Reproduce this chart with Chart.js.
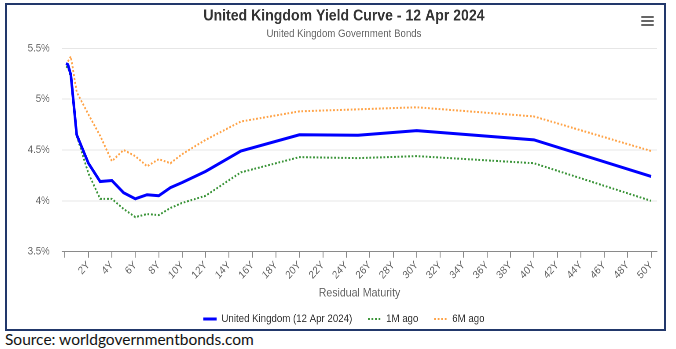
<!DOCTYPE html>
<html>
<head>
<meta charset="utf-8">
<script src="https://cdn.jsdelivr.net/npm/chart.js@4/dist/chart.umd.min.js"></script>
<style>
  html, body { margin: 0; padding: 0; background: #fff; }
  body { width: 676px; height: 349px; position: relative; overflow: hidden; }
  #frame {
    position: absolute; left: 5px; top: 3px;
    width: 657px; height: 324px;
    border: 2px solid #22386b;
    overflow: hidden;
  }
  #wrap {
    position: absolute; left: 1px; top: 0;
    width: 771px; height: 324px;
    transform: scaleX(0.88); transform-origin: 0 0;
  }
  #menu { position: absolute; left: 634px; top: 11px; width: 13px; }
  #menu span { display: block; height: 2px; background: #666; margin-bottom: 2px; border-radius: 1px; }
  #source {
    position: absolute; left: 5px; top: 330px;
    font-family: Lato, "Open Sans", sans-serif; font-size: 15.5px; color: #111;
  }
</style>
</head>
<body>
<div id="frame">
  <div id="wrap"><canvas id="c" width="771" height="324"></canvas></div>
  <div id="menu"><span></span><span></span><span></span></div>
</div>
<div id="source">Source: worldgovernmentbonds.com</div>
<script>
// Residual maturity in years
const maturities = [0.083, 0.25, 0.5, 1, 2, 3, 4, 5, 6, 7, 8, 9, 10, 12, 15, 20, 25, 30, 40, 50];
// Gilt yields, %
const ukYields     = [5.35, 5.34, 5.24, 4.65, 4.37, 4.19, 4.20, 4.08, 4.02, 4.06, 4.05, 4.13, 4.18, 4.29, 4.49, 4.65, 4.645, 4.69, 4.60, 4.24];
const oneMonthAgo  = [5.32, 5.31, 5.22, 4.64, 4.27, 4.02, 4.02, 3.92, 3.84, 3.87, 3.86, 3.93, 3.98, 4.05, 4.28, 4.43, 4.42, 4.44, 4.37, 4.00];
const sixMonthsAgo = [null, 5.37, 5.42, 5.07, 4.85, 4.64, 4.39, 4.50, 4.44, 4.34, 4.41, 4.37, 4.46, 4.60, 4.78, 4.88, 4.90, 4.92, 4.83, 4.49];
// Axis ticks
const xTicks = [0, 2, 4, 6, 8, 10, 12, 14, 16, 18, 20, 22, 24, 26, 28, 30, 32, 34, 36, 38, 40, 42, 44, 46, 48, 50];
const yTicks = [3.5, 4, 4.5, 5, 5.5];

const seriesNames = ['United Kingdom (12 Apr 2024)', '1M ago', '6M ago'];

const toPoints = arr => maturities.map((m, i) => ({ x: m, y: arr[i] }));

const FONT = '"Liberation Sans", Arial, sans-serif';

new Chart(document.getElementById('c'), {
  type: 'line',
  data: {
    datasets: [
      {
        label: seriesNames[0], data: toPoints(ukYields),
        borderColor: '#0000ff', backgroundColor: '#0000ff',
        borderWidth: 3, pointRadius: 0, pointStyle: 'line', tension: 0
      },
      {
        label: seriesNames[1], data: toPoints(oneMonthAgo),
        borderColor: '#3a9438', backgroundColor: '#3a9438',
        borderWidth: 2, borderDash: [2, 2], pointRadius: 0, pointStyle: 'line', tension: 0
      },
      {
        label: seriesNames[2], data: toPoints(sixMonthsAgo),
        borderColor: '#ffa347', backgroundColor: '#ffa347',
        borderWidth: 2, borderDash: [2, 2], pointRadius: 0, pointStyle: 'line', tension: 0
      }
    ]
  },
  options: {
    responsive: false,
    devicePixelRatio: 2,
    animation: false,
    layout: { padding: { left: 0, right: 7.5, top: 0, bottom: 0 } },
    plugins: {
      title: {
        display: true, text: 'United Kingdom Yield Curve - 12 Apr 2024',
        color: '#333333', font: { family: FONT, size: 16, weight: 'bold' },
        padding: { top: 1.4, bottom: 0 }
      },
      subtitle: {
        display: true, text: 'United Kingdom Government Bonds',
        color: '#666666', font: { family: FONT, size: 11 },
        padding: { top: 2, bottom: 7.5 }
      },
      legend: {
        position: 'bottom',
        maxHeight: 33.5,
        labels: {
          usePointStyle: true, pointStyleWidth: 15,
          color: '#333333', font: { family: FONT, size: 11 },
          padding: 18, boxHeight: 11,
          // carry each series' dash pattern into its legend key
          generateLabels: chart => Chart.defaults.plugins.legend.labels.generateLabels(chart).map(item => {
            const ds = chart.data.datasets[item.datasetIndex];
            item.lineDash = ds.borderDash || [];
            item.lineWidth = ds.borderWidth;
            return item;
          })
        }
      },
      tooltip: { enabled: false }
    },
    scales: {
      x: {
        type: 'linear', min: -0.25, max: 50.5,
        afterBuildTicks: s => { s.ticks = xTicks.map(v => ({ value: v })); },
        afterFit: s => { s.height = 43.8; },
        ticks: {
          autoSkip: false, maxRotation: 45, minRotation: 45, padding: 1,
          color: '#666666', font: { family: FONT, size: 11 },
          callback: v => (v === 0 ? '' : v + 'Y')
        },
        grid: { drawOnChartArea: false, drawTicks: true, tickLength: 6, tickColor: '#8a8a8a' },
        border: { display: true, color: '#8a8a8a', width: 1 },
        title: {
          display: true, text: 'Residual Maturity', color: '#666666',
          font: { family: FONT, size: 12 }, padding: { top: 0, bottom: -4.7 }
        }
      },
      y: {
        min: 3.5, max: 5.5,
        afterBuildTicks: s => { s.ticks = yTicks.map(v => ({ value: v })); },
        afterFit: s => { s.width = 61.4; },
        ticks: {
          padding: 14, color: '#666666', font: { family: FONT, size: 11 },
          callback: v => v + '%'
        },
        grid: { color: '#e6e6e6', drawTicks: false },
        border: { display: false }
      },
      // empty right-hand margin beside the plot
      yRight: {
        type: 'linear', position: 'right', min: 3.5, max: 5.5,
        afterFit: s => { s.width = 26; },
        ticks: { display: false },
        grid: { drawOnChartArea: false, drawTicks: false },
        border: { display: false }
      }
    }
  }
});
</script>
</body>
</html>
